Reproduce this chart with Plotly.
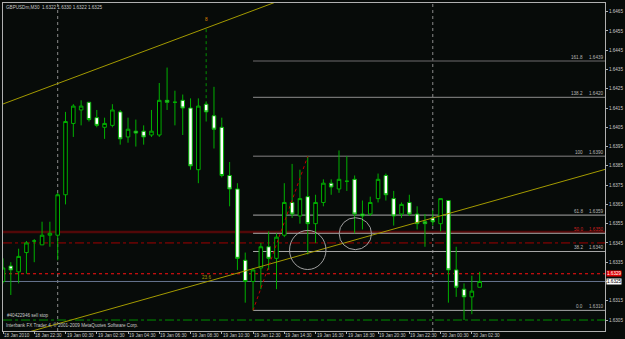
import plotly.graph_objects as go

# ---------------- data ----------------
opens  = [1.6325, 1.6333, 1.6330, 1.6340, 1.6346, 1.6344, 1.6349, 1.6349, 1.6370, 1.6407,
          1.6414, 1.6418, 1.6410, 1.6405, 1.6406, 1.6413, 1.6400, 1.6403, 1.6403, 1.6401,
          1.6401, 1.6419, 1.6418, 1.6419, 1.6415, 1.6383, 1.6417, 1.6411, 1.6405, 1.6380,
          1.6373, 1.6336, 1.6325, 1.6332, 1.6343, 1.6337, 1.6349, 1.6366, 1.6359, 1.6369,
          1.6355, 1.6366, 1.6376, 1.6373, 1.6377, 1.6378, 1.6360, 1.6360, 1.6368, 1.6380,
          1.6368, 1.6360, 1.6366, 1.6360, 1.6356, 1.6358, 1.6355, 1.6367, 1.6331, 1.6321,
          1.6317, 1.6322]
highs  = [1.6337, 1.6335, 1.6342, 1.6346, 1.6347, 1.6356, 1.6356, 1.6371, 1.6413, 1.6417,
          1.6419, 1.6418, 1.6414, 1.6410, 1.6417, 1.6414, 1.6410, 1.6409, 1.6406, 1.6414,
          1.6428, 1.6436, 1.6424, 1.6422, 1.6420, 1.6420, 1.6418, 1.6426, 1.6410, 1.6387,
          1.6376, 1.6340, 1.6332, 1.6345, 1.6351, 1.6350, 1.6376, 1.6386, 1.6383, 1.6390,
          1.6370, 1.6378, 1.6378, 1.6393, 1.6390, 1.6380, 1.6367, 1.6369, 1.6381, 1.6381,
          1.6372, 1.6366, 1.6370, 1.6364, 1.6360, 1.6362, 1.6368, 1.6367, 1.6343, 1.6324,
          1.6328, 1.6330]
lows   = [1.6324, 1.6318, 1.6324, 1.6329, 1.6335, 1.6344, 1.6343, 1.6336, 1.6365, 1.6400,
          1.6406, 1.6408, 1.6405, 1.6399, 1.6405, 1.6396, 1.6397, 1.6395, 1.6396, 1.6400,
          1.6400, 1.6414, 1.6406, 1.6401, 1.6383, 1.6376, 1.6408, 1.6394, 1.6379, 1.6364,
          1.6331, 1.6314, 1.6310, 1.6321, 1.6331, 1.6321, 1.6348, 1.6358, 1.6355, 1.6339,
          1.6345, 1.6364, 1.6370, 1.6371, 1.6372, 1.6350, 1.6352, 1.6359, 1.6366, 1.6367,
          1.6354, 1.6358, 1.6359, 1.6352, 1.6343, 1.6354, 1.6351, 1.6314, 1.6317, 1.6305,
          1.6308, 1.6322]
closes = [1.6332, 1.6331, 1.6338, 1.6345, 1.6346, 1.6349, 1.6350, 1.6370, 1.6408, 1.6416,
          1.6416, 1.6409, 1.6406, 1.6407, 1.6414, 1.6399, 1.6404, 1.6402, 1.6400, 1.6403,
          1.6419, 1.6418, 1.6418, 1.6415, 1.6385, 1.6416, 1.6413, 1.6404, 1.6380, 1.6373,
          1.6337, 1.6325, 1.6331, 1.6343, 1.6337, 1.6348, 1.6366, 1.6360, 1.6368, 1.6355,
          1.6366, 1.6376, 1.6374, 1.6378, 1.6377, 1.6360, 1.6359, 1.6366, 1.6378, 1.6370,
          1.6359, 1.6365, 1.6360, 1.6355, 1.6355, 1.6356, 1.6368, 1.6331, 1.6322, 1.6317,
          1.6320, 1.6325]
bar_idx = list(range(len(opens)))

time_tick_bars = [0, 4, 8, 12, 16, 20, 24, 28, 32, 36, 40, 44, 48, 52, 56, 60]
time_tick_labels = ["18 Jan 2010", "18 Jan 22:30", "19 Jan 00:30", "19 Jan 02:30",
                    "19 Jan 04:30", "19 Jan 06:30", "19 Jan 08:30", "19 Jan 10:30",
                    "19 Jan 12:30", "19 Jan 14:30", "19 Jan 16:30", "19 Jan 18:30",
                    "19 Jan 20:30", "19 Jan 22:30", "20 Jan 00:30", "20 Jan 02:30"]
price_ticks = [1.6305, 1.6315, 1.6325, 1.6335, 1.6345, 1.6355, 1.6365, 1.6375, 1.6385,
               1.6395, 1.6405, 1.6415, 1.6425, 1.6435, 1.6445, 1.6455, 1.6465]
day_break_bars = [7, 55]

fib_low, fib_high = 1.6310, 1.6390
fib_low_bar, fib_high_bar = 32, 39
fib_levels = [161.8, 138.2, 100.0, 61.8, 50.0, 38.2, 0.0]
fib_level_text = ["161.8", "138.2", "100", "61.8", "50.0", "38.2", "0.0"]
fib_price_text = ["1.6439", "1.6420", "1.6390", "1.6359", "1.6350", "1.6340", "1.6310"]

hline_prices = {"band": 1.63507, "dashdot_red": 1.6345, "dot_red": 1.6329,
                "bid": 1.6325, "stop": 1.6305}

upper_trend = ([0, 26], [1.64171, 1.64565])
lower_trend = ([50.77, 72.45], [1.63531, 1.63779])

circles = [((36.67, 41.33), (1.63312, 1.63515)), ((43.02, 47.16), (1.63415, 1.63581))]

title_text = "GBPUSDm,M30  1.6322 1.6330 1.6322 1.6325"

# ---------------- figure ----------------
BG = "#070b09"
GREEN = "#00b000"
FONT = "Liberation Sans"
FS = 4.6
X_MAX = 604 / 7.84

fig = go.Figure()
fig.add_trace(go.Candlestick(
    x=bar_idx, open=opens, high=highs, low=lows, close=closes,
    increasing=dict(line=dict(color=GREEN, width=1), fillcolor="#000000"),
    decreasing=dict(line=dict(color=GREEN, width=1), fillcolor="#ffffff"),
    whiskerwidth=0, showlegend=False, hoverinfo="skip"))

def extend(pts, x0, x1):
    (a, b), (pa, pb) = pts
    s = (pb - pa) / (b - a)
    return [x0, x1], [pa + s * (x0 - a), pa + s * (x1 - a)]

for pts, rng in ((upper_trend, (0, 40)), (lower_trend, (0, X_MAX))):
    xs, ys = extend(pts, *rng)
    fig.add_trace(go.Scatter(x=xs, y=ys, mode="lines",
                             line=dict(color="#a39a00", width=1),
                             showlegend=False, hoverinfo="skip"))

shapes = []
def hline(y, color, width=1, dash="solid", x0=0, x1=X_MAX, layer="below"):
    shapes.append(dict(type="line", xref="x", yref="y", x0=x0, x1=x1, y0=y, y1=y,
                       line=dict(color=color, width=width, dash=dash), layer=layer))

hline(hline_prices["band"], "#520808", 2.5)
hline(hline_prices["dashdot_red"], "#a00000", 1, "dashdot")
hline(hline_prices["dot_red"], "#ff1010", 1, "dot")
hline(hline_prices["bid"], "#66758f", 1)
hline(hline_prices["stop"], "#009000", 1, "dashdot")

fib_styles = [("#4d4d4d", 1.6), ("#8e8e8e", 1), ("#5a5a5a", 1.6), ("#a8a8a8", 1),
              ("#a8a8a8", 1), ("#a8a8a8", 1), ("#a8a8a8", 1)]
for lv, (c, w) in zip(fib_levels, fib_styles):
    hline(fib_low + (fib_high - fib_low) * lv / 100.0, c, w, x0=fib_low_bar)

for b in day_break_bars:
    shapes.append(dict(type="line", xref="x", yref="paper", x0=b, x1=b, y0=0, y1=1,
                       line=dict(color="#8a8a8a", width=1, dash="dot"), layer="below"))

shapes.append(dict(type="line", xref="x", yref="y", x0=fib_low_bar, y0=fib_low,
                   x1=fib_high_bar, y1=fib_high,
                   line=dict(color="#c00000", width=1, dash="dot")))
shapes.append(dict(type="line", xref="x", yref="y", x0=26, x1=26, y0=1.6417, y1=1.6456,
                   line=dict(color="#009000", width=1, dash="dot")))
for (xa, xb), (ya, yb) in circles:
    shapes.append(dict(type="circle", xref="x", yref="y", x0=xa, x1=xb, y0=ya, y1=yb,
                       line=dict(color="#a0a0a0", width=1)))

ann = []
for b, t in zip(time_tick_bars, time_tick_labels):
    ann.append(dict(x=b, xref="x", y=0, yref="paper", text=t, showarrow=False,
                    xanchor="left", yanchor="top", yshift=0, xshift=-1,
                    font=dict(size=FS, color="#c8c8c8", family=FONT)))

for lv, lt, pt in zip(fib_levels, fib_level_text, fib_price_text):
    col = "#d02020" if lv == 50.0 else "#b8b8b8"
    yv = fib_low + (fib_high - fib_low) * lv / 100.0
    ann.append(dict(x=1, xref="paper", y=yv, yref="y", text=pt, showarrow=False,
                    xanchor="right", yanchor="bottom", xshift=0, yshift=-1,
                    font=dict(size=FS, color=col, family=FONT)))
    ann.append(dict(x=1, xref="paper", y=yv, yref="y", text=lt, showarrow=False,
                    xanchor="right", yanchor="bottom", xshift=-20, yshift=-1,
                    font=dict(size=FS, color=col, family=FONT)))

ann.append(dict(x=0, xref="paper", y=1, yref="paper", text=title_text, showarrow=False,
                xanchor="left", yanchor="top", xshift=1, yshift=0,
                font=dict(size=FS, color="#c8c8c8", family=FONT)))
ann.append(dict(x=0, xref="paper", y=hline_prices["stop"], yref="y",
                text="#40422946 sell stop", showarrow=False, xanchor="left",
                yanchor="bottom", xshift=2, yshift=0,
                font=dict(size=FS, color="#c8c8c8", family=FONT)))
ann.append(dict(x=0, xref="paper", y=0, yref="paper",
                text="Interbank FX Trader 4, \u00a9 2001-2009 MetaQuotes Software Corp.",
                showarrow=False, xanchor="left", yanchor="bottom", xshift=1, yshift=1,
                font=dict(size=FS, color="#c8c8c8", family=FONT)))
ann.append(dict(x=26, xref="x", y=1.6327, yref="y", text="23.6", showarrow=False,
                font=dict(size=FS, color="#a39a00", family=FONT)))
ann.append(dict(x=26, xref="x", y=1.6461, yref="y", text="8", showarrow=False,
                font=dict(size=FS, color="#e08a00", family=FONT)))
ann.append(dict(x=1, xref="paper", y=hline_prices["dot_red"], yref="y", text="1.6329",
                showarrow=False, xanchor="left", bgcolor="#e00000", borderpad=0,
                xshift=1, yshift=0.5, font=dict(size=FS, color="#ffffff", family=FONT)))
ann.append(dict(x=1, xref="paper", y=hline_prices["bid"], yref="y", text="1.6325",
                showarrow=False, xanchor="left", bgcolor="#ffffff", borderpad=0,
                xshift=1, yshift=-0.5, font=dict(size=FS, color="#000000", family=FONT)))

# the bid label on the axis covers the 1.6325 tick text, as in the reference
tick_text = ["" if abs(v - hline_prices["bid"]) < 1e-9 else f"{v:.4f}" for v in price_ticks]

fig.update_layout(
    width=625, height=339, margin=dict(l=2, r=19, t=2, b=8, pad=0),
    paper_bgcolor=BG, plot_bgcolor=BG, boxgap=0.35, showlegend=False,
    shapes=shapes, annotations=ann,
    xaxis=dict(range=[0, X_MAX], showgrid=False, zeroline=False, showline=True,
               linecolor="#b0b0b0", linewidth=1, mirror=True,
               tickvals=time_tick_bars, ticktext=[""] * len(time_tick_bars),
               ticks="outside", ticklen=2, tickcolor="#b0b0b0",
               rangeslider=dict(visible=False), fixedrange=True),
    yaxis=dict(range=[1.62993, 1.64695], side="right", tickvals=price_ticks,
               ticktext=tick_text, ticks="outside", ticklen=2,
               tickcolor="#b0b0b0", tickfont=dict(size=FS, color="#c8c8c8", family=FONT),
               showgrid=False, zeroline=False, showline=True, linecolor="#b0b0b0",
               linewidth=1, mirror=True, fixedrange=True),
)

fig.write_html("out.html")
